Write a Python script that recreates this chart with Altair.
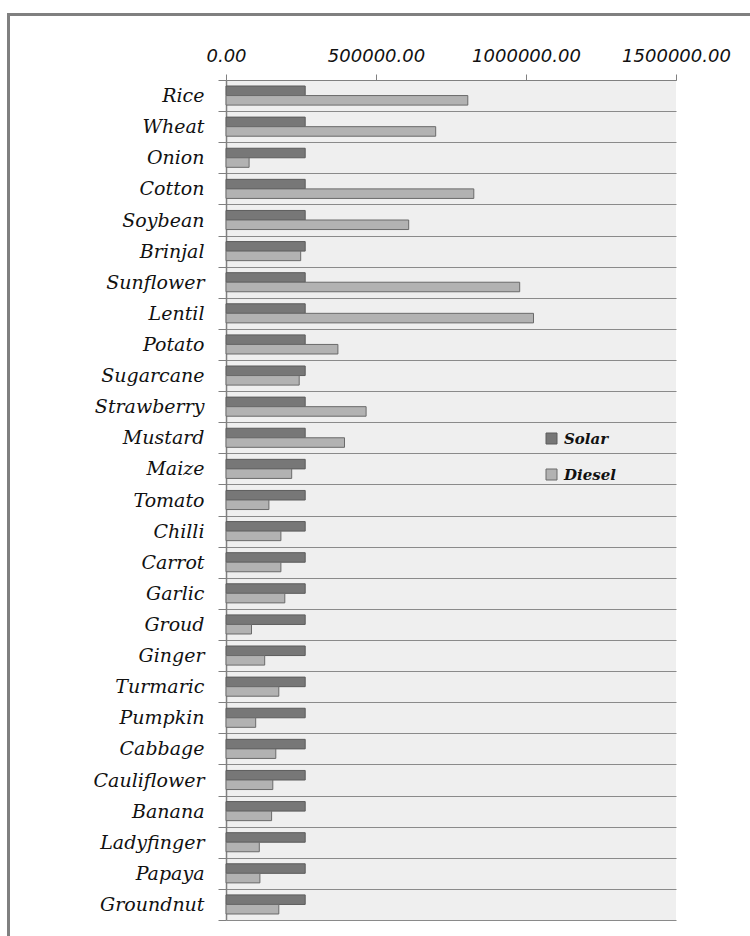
import altair as alt
import pandas as pd

crops = ["Rice", "Wheat", "Onion", "Cotton", "Soybean", "Brinjal", "Sunflower", "Lentil",
         "Potato", "Sugarcane", "Strawberry", "Mustard", "Maize", "Tomato", "Chilli", "Carrot",
         "Garlic", "Groud", "Ginger", "Turmaric", "Pumpkin", "Cabbage", "Cauliflower", "Banana",
         "Ladyfinger", "Papaya", "Groundnut"]
solar = [264000] * len(crops)
diesel = [806000, 699000, 77000, 826000, 609000, 249000, 979000, 1025000,
          373000, 244000, 467000, 395000, 219000, 143000, 183000, 183000,
          196000, 85000, 129000, 176000, 99000, 166000, 156000, 152000,
          111000, 113000, 176000]
series = ["Solar", "Diesel"]
x_ticks = [0, 500000, 1000000, 1500000]

rows = []
for c, s, d in zip(crops, solar, diesel):
    rows.append({"crop": c, "series": "Solar", "value": s})
    rows.append({"crop": c, "series": "Diesel", "value": d})
df = pd.DataFrame(rows)

W, H = 450, 840

bars = alt.Chart(df).mark_bar(strokeWidth=1).encode(
    x=alt.X("value:Q",
            scale=alt.Scale(domain=[0, 1500000], nice=False),
            axis=alt.Axis(orient="top", values=x_ticks, format=".2f", title=None,
                          grid=False, domainColor="#808080", domainWidth=1,
                          tickColor="#808080", tickSize=6, labelPadding=9,
                          labelOverlap=False, labelFlush=False,
                          labelFont="DejaVu Sans", labelFontStyle="italic",
                          labelFontSize=18, labelColor="#111111")),
    y=alt.Y("crop:N", sort=crops,
            scale=alt.Scale(paddingInner=0, paddingOuter=0),
            axis=alt.Axis(title=None, tickBand="extent", grid=True, gridColor="#8a8a8a",
                          gridWidth=1.2, domainColor="#808080", domainWidth=1.5,
                          tickColor="#808080", tickSize=8, labelPadding=14,
                          labelFont="DejaVu Serif", labelFontStyle="italic",
                          labelFontSize=19, labelColor="#111111")),
    yOffset=alt.YOffset("series:N", sort=series,
                        scale=alt.Scale(paddingInner=0, paddingOuter=0.63)),
    color=alt.Color("series:N", sort=series,
                    scale=alt.Scale(domain=series, range=["#777777", "#b2b2b2"]),
                    legend=alt.Legend(title=None, orient="none", legendX=318, legendY=351,
                                      symbolType="square", symbolSize=121,
                                      symbolStrokeColor="#555555", symbolStrokeWidth=1,
                                      rowPadding=20, labelOffset=5,
                                      labelFont="DejaVu Serif", labelFontStyle="italic",
                                      labelFontWeight="bold", labelFontSize=15,
                                      labelColor="#111111")),
    stroke=alt.Stroke("series:N", sort=series,
                      scale=alt.Scale(domain=series, range=["#5c5c5c", "#6a6a6a"]),
                      legend=None),
)

top_border = alt.Chart(df).mark_rule(color="#808080", strokeWidth=3).encode(
    x=alt.value(-218), x2=alt.value(750 - 226), y=alt.value(-65.5))
left_border = alt.Chart(df).mark_rule(color="#808080", strokeWidth=1.5).encode(
    x=alt.value(-217.5), y=alt.value(-67), y2=alt.value(936 - 80))

chart = alt.layer(bars, top_border, left_border).properties(
    width=W, height=H,
    autosize=alt.AutoSizeParams(type="none"),
    padding={"left": 226, "top": 80, "right": 74, "bottom": 16},
    background="white",
).configure_view(fill="#efefef", stroke=None)

chart.save("out.html", embed_options={"renderer": "svg", "actions": False})
